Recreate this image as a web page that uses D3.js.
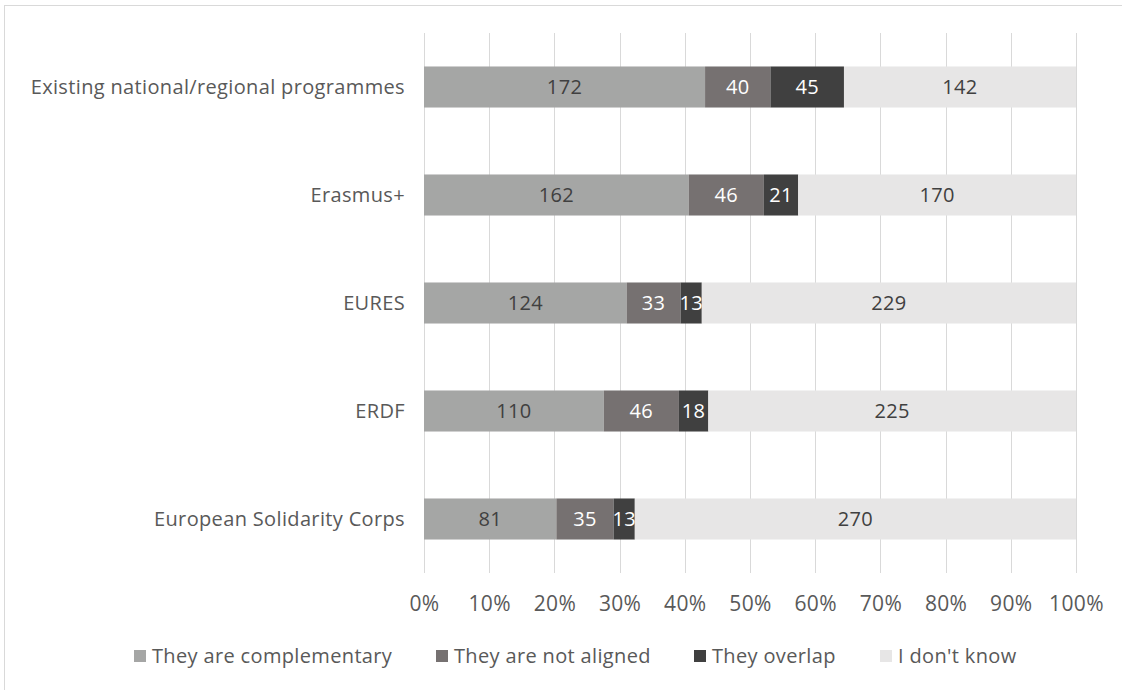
<!DOCTYPE html>
<html><head><meta charset="utf-8">
<script src="https://cdn.jsdelivr.net/npm/d3@7"></script>
<style>body{margin:0;background:#fff}svg{display:block}text{font-family:"Open Sans",sans-serif}</style>
</head><body><svg id="c" width="1122" height="690"></svg>
<script>
const categories = ["Existing national/regional programmes","Erasmus+","EURES","ERDF","European Solidarity Corps"];
const seriesNames = ["They are complementary","They are not aligned","They overlap","I don't know"];
const complementary = [172,162,124,110,81];
const notAligned = [40,46,33,46,35];
const overlap = [45,21,13,18,13];
const dontKnow = [142,170,229,225,270];
const tickLabels = ["0%","10%","20%","30%","40%","50%","60%","70%","80%","90%","100%"];
const colors = ["#a5a6a5","#767171","#404040","#e7e6e6"];
const labelColors = ["#404040","#ffffff","#ffffff","#404040"];

(function(){
const svg = d3.select("#c");
const FS = 20, LS = 0.35;
svg.append("rect").attr("x",4.5).attr("y",5.5).attr("width",1130).attr("height",700).attr("fill","#fff").attr("stroke","#d9d9d9");

const pL=424,pR=1076,pT=33,pB=573;
const rows = categories.map((c,i)=>{const v=[complementary[i],notAligned[i],overlap[i],dontKnow[i]];const t=d3.sum(v);const o={cat:c,total:t};seriesNames.forEach((s,j)=>o[s]=v[j]/t);o.raw=v;return o;});
const x=d3.scaleLinear().domain([0,1]).range([pL,pR]);
const y=d3.scaleBand().domain(categories).range([pT,pB]).paddingInner(0.62).paddingOuter(0.31);

svg.append("g").selectAll("line").data(d3.range(0,1.0001,0.1)).join("line")
 .attr("x1",d=>Math.round(x(d))+0.5).attr("x2",d=>Math.round(x(d))+0.5).attr("y1",pT).attr("y2",pB)
 .attr("stroke","#d9d9d9").attr("stroke-width",1);

const stack=d3.stack().keys(seriesNames)(rows);
const g=svg.append("g");
stack.forEach((layer,j)=>{
  g.append("g").selectAll("rect").data(layer).join("rect")
   .attr("x",d=>x(d[0])).attr("width",d=>x(d[1])-x(d[0]))
   .attr("y",d=>y(d.data.cat)).attr("height",y.bandwidth()).attr("fill",colors[j]);
  g.append("g").selectAll("text").data(layer).join("text")
   .attr("x",d=>(x(d[0])+x(d[1]))/2).attr("y",d=>y(d.data.cat)+y.bandwidth()/2)
   .attr("dy","0.35em").attr("text-anchor","middle").attr("font-size",FS).attr("letter-spacing",LS).attr("fill",labelColors[j])
   .text(d=>d.data.raw[j]);
});

svg.append("g").selectAll("text").data(categories).join("text")
 .attr("x",405).attr("y",d=>y(d)+y.bandwidth()/2).attr("dy","0.35em").attr("text-anchor","end")
 .attr("font-size",FS).attr("letter-spacing",LS).attr("fill","#595959").text(d=>d);

const xa=d3.axisBottom(x).tickValues(d3.range(0,1.0001,0.1)).tickFormat((d,i)=>tickLabels[i]).tickSize(0).tickPadding(0);
const ax=svg.append("g").attr("transform",`translate(0,604)`).call(xa);
ax.select(".domain").remove();
ax.selectAll("text").attr("font-size",FS+1).attr("letter-spacing",LS).attr("fill","#595959").attr("font-family","'Open Sans',sans-serif").attr("dy","0.35em").attr("y",0);

const leg=[134,436,694,880];
const lg=svg.append("g");
seriesNames.forEach((s,j)=>{
  lg.append("rect").attr("x",leg[j]).attr("y",650).attr("width",12).attr("height",12).attr("fill",colors[j]);
  lg.append("text").attr("x",leg[j]+18).attr("y",656).attr("dy","0.35em").attr("font-size",FS).attr("letter-spacing",LS).attr("fill","#595959").text(s);
});
})();
</script></body></html>
